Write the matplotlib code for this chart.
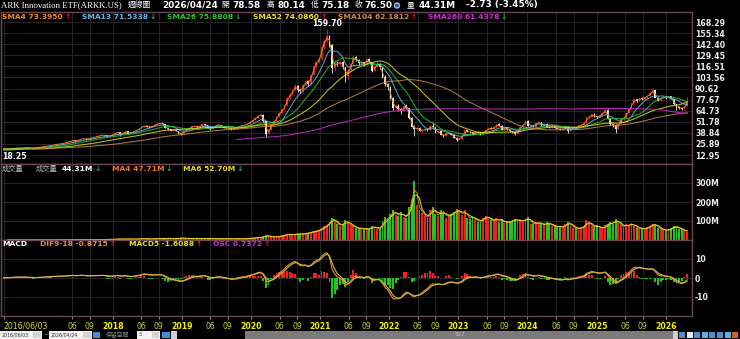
import numpy as np
import pandas as pd
import matplotlib
matplotlib.use('Agg')
import matplotlib.pyplot as plt
import matplotlib.dates as mdates
from matplotlib.patches import Rectangle

# ARKK weekly chart, sampled every second week (2016/06/03 .. 2026/04/24)
first_date = '2016-06-03'

# closes before the first shown candle, only used to warm up the long averages
pre_close = [20.0, 20.4, 20.6, 20.1, 20.5, 20.3, 20.8, 21.2, 21.7, 21.9,
             21.5, 21.6, 21.9, 22.1, 22.4, 22.6, 22.5, 22.3, 22.7, 23.0,
             22.4, 20.6, 19.8, 20.4, 19.7, 20.8, 21.6, 21.4, 21.9, 21.1,
             21.4, 19.6, 18.4, 17.3, 17.0, 17.9, 18.6, 18.9, 19.2, 18.7,
             19.4]

close = [
    20.1, 19.6, 19.9, 20.6, 20.9, 21.2, 21.0, 21.4, 21.6, 21.3, 21.0, 20.7, 21.6,
    21.9, 22.3, 22.8, 23.4, 24.0, 24.6, 25.1, 25.4, 25.9, 26.5, 27.2, 28.0, 28.9,
    30.4, 29.2, 30.6, 31.5, 32.2, 31.4, 32.0, 33.1, 33.8, 34.6, 35.5, 36.2, 36.0,
    34.8, 35.6, 36.8, 38.6, 39.8, 37.2, 38.9, 40.6, 38.0, 39.2, 40.4, 42.3, 43.5,
    45.8, 47.3, 46.1, 45.5, 46.8, 48.4, 49.6, 49.9, 48.6, 44.8, 42.9, 41.5, 42.2,
    41.0, 38.4, 37.6, 40.9, 42.8, 44.6, 46.3, 46.9, 45.2, 47.0, 48.6, 47.8, 44.9,
    43.2, 45.9, 47.4, 48.3, 47.1, 45.0, 44.6, 44.1, 42.8, 43.9, 45.3, 46.8, 47.6,
    48.2, 49.6, 51.8, 53.9, 56.2, 58.9, 60.1, 52.4, 37.8, 42.6, 48.9, 52.7, 57.4,
    62.3, 66.1, 70.8, 79.6, 83.2, 88.4, 93.6, 89.2, 87.5, 95.1, 99.4, 96.0, 106.8,
    117.2, 121.5, 124.9, 139.6, 146.2, 152.4, 141.8, 114.6, 120.3, 119.8, 121.6, 115.7, 104.8,
    111.8, 119.2, 127.6, 124.3, 120.1, 121.5, 118.4, 124.8, 121.2, 111.6, 116.5, 118.9, 115.4,
    104.2, 95.8, 92.4, 79.1, 68.4, 70.2, 66.1, 64.8, 69.7, 67.5, 56.3, 46.2, 43.1,
    44.6, 41.2, 42.0, 43.4, 42.3, 46.8, 45.3, 39.4, 40.6, 36.1, 35.3, 38.2, 38.6,
    36.4, 33.2, 30.6, 32.1, 35.6, 41.8, 40.2, 39.8, 37.9, 40.1, 38.7, 37.3, 39.9,
    42.2, 44.1, 43.4, 45.3, 48.6, 47.1, 42.3, 45.6, 43.2, 40.5, 39.3, 37.6, 41.2,
    45.8, 48.3, 53.1, 47.2, 47.5, 46.1, 50.2, 51.3, 47.1, 49.4, 45.9, 45.2, 46.9,
    44.2, 43.8, 42.6, 43.3, 46.1, 40.9, 44.2, 45.4, 44.6, 47.6, 48.1, 49.8, 56.9,
    57.2, 60.3, 58.1, 57.0, 59.4, 62.1, 65.8, 55.4, 48.7, 48.1, 43.6, 49.2, 55.1,
    56.3, 61.5, 66.8, 73.2, 77.9, 76.1, 79.2, 78.4, 80.6, 82.3, 84.9, 88.6, 80.1,
    76.4, 79.8, 80.6, 79.2, 81.3, 78.5, 72.4, 69.1, 68.3, 66.4, 70.2, 76.5,
]

high = [
    20.4, 20.5, 20.2, 20.8, 21.2, 21.5, 21.4, 21.7, 21.9, 21.8, 21.5, 21.2, 22.1,
    22.2, 22.5, 23.0, 23.6, 24.2, 24.9, 25.4, 25.7, 26.2, 26.8, 27.5, 28.3, 29.3,
    30.9, 30.6, 30.9, 31.9, 32.6, 32.5, 32.3, 33.5, 34.1, 35.0, 35.9, 36.7, 36.8,
    36.4, 35.9, 37.1, 38.9, 40.3, 40.2, 39.3, 41.2, 41.0, 39.6, 40.8, 42.7, 44.0,
    46.3, 47.8, 47.6, 46.5, 47.2, 48.8, 50.1, 50.6, 50.2, 48.9, 45.3, 43.6, 42.9,
    42.6, 41.5, 38.9, 41.2, 43.1, 44.9, 46.6, 47.4, 47.2, 47.3, 49.0, 48.9, 48.0,
    45.2, 46.2, 47.8, 48.9, 48.5, 47.4, 45.5, 45.0, 44.4, 44.3, 45.7, 47.1, 48.0,
    48.6, 49.9, 52.2, 54.5, 56.8, 59.5, 61.9, 60.5, 53.0, 43.1, 49.4, 53.3, 57.9,
    62.8, 66.7, 71.5, 80.4, 85.1, 89.2, 95.3, 94.8, 90.6, 95.8, 100.6, 100.3, 108.1,
    118.3, 122.6, 126.1, 141.2, 148.5, 159.7, 153.6, 143.1, 123.5, 122.4, 124.2, 122.8, 116.3,
    113.0, 120.1, 129.3, 128.2, 125.0, 122.9, 122.0, 125.9, 126.2, 121.8, 117.4, 121.6, 120.3,
    116.0, 106.5, 97.1, 93.0, 80.2, 72.0, 72.5, 67.3, 71.2, 72.6, 68.4, 57.1, 47.8,
    45.8, 45.2, 42.9, 44.3, 43.9, 47.6, 51.6, 45.8, 41.5, 41.0, 37.0, 39.1, 40.4,
    39.1, 37.0, 33.6, 32.5, 36.1, 42.6, 42.3, 41.4, 40.3, 40.6, 41.0, 39.2, 40.4,
    42.6, 44.7, 45.1, 45.8, 49.4, 50.3, 47.5, 46.1, 46.2, 43.8, 41.2, 39.8, 41.7,
    46.2, 48.9, 53.6, 53.5, 48.8, 48.3, 50.9, 52.2, 51.8, 49.9, 49.8, 46.6, 47.5,
    47.3, 44.9, 44.2, 43.8, 46.9, 46.5, 44.6, 45.9, 46.0, 48.1, 48.8, 50.3, 57.8,
    59.1, 61.2, 61.5, 58.9, 60.2, 63.0, 66.8, 66.2, 56.1, 50.3, 48.9, 49.8, 55.7,
    57.2, 62.0, 67.4, 73.9, 78.6, 78.8, 79.8, 80.3, 81.2, 83.1, 86.0, 90.8, 89.0,
    80.6, 80.3, 81.4, 81.0, 82.1, 81.8, 78.9, 73.0, 70.2, 69.0, 70.8, 80.14,
]

low = [
    19.2, 18.25, 19.3, 19.7, 20.4, 20.7, 20.8, 20.9, 21.2, 21.1, 20.8, 20.2, 20.5,
    21.4, 21.7, 22.1, 22.6, 23.2, 23.8, 24.3, 24.8, 25.1, 25.6, 26.2, 26.9, 27.7,
    28.6, 28.4, 29.0, 30.4, 31.2, 31.0, 31.1, 31.8, 32.8, 33.5, 34.3, 35.2, 35.4,
    34.3, 34.4, 35.3, 36.5, 38.2, 35.6, 36.9, 38.6, 37.1, 37.6, 38.9, 40.1, 42.0,
    43.2, 45.4, 45.7, 45.0, 45.2, 46.5, 48.1, 49.1, 48.0, 44.2, 41.8, 40.6, 40.9,
    40.4, 38.0, 35.9, 37.3, 40.5, 42.4, 44.3, 46.0, 44.6, 44.9, 46.7, 47.3, 44.2,
    42.6, 43.0, 45.6, 47.1, 46.8, 44.6, 44.0, 43.6, 42.2, 42.5, 43.6, 45.1, 46.5,
    47.2, 47.9, 49.3, 51.4, 53.5, 55.8, 58.4, 51.6, 33.4, 36.9, 42.2, 48.1, 52.3,
    57.0, 61.5, 65.2, 70.3, 78.2, 82.5, 87.9, 86.4, 84.9, 87.0, 94.3, 93.8, 95.2,
    106.1, 114.8, 120.2, 124.0, 136.8, 145.3, 138.9, 108.2, 111.5, 116.4, 117.9, 113.9, 98.6,
    102.3, 110.5, 118.6, 122.6, 117.8, 118.7, 116.5, 117.9, 120.1, 110.4, 110.9, 115.8, 113.6,
    102.9, 93.7, 88.6, 77.8, 65.2, 67.1, 64.3, 60.5, 63.8, 66.1, 55.2, 45.1, 35.1,
    42.2, 40.6, 38.8, 41.2, 41.5, 41.9, 44.7, 39.0, 38.7, 35.8, 34.1, 34.8, 37.1,
    36.0, 32.7, 29.5, 30.2, 31.8, 35.2, 39.3, 38.6, 36.0, 37.5, 38.1, 36.6, 37.0,
    39.5, 41.7, 42.8, 42.9, 45.0, 46.3, 41.8, 42.0, 42.6, 40.1, 38.4, 36.8, 37.3,
    40.8, 45.3, 48.0, 46.4, 46.1, 45.2, 45.8, 49.6, 46.5, 46.8, 45.4, 44.3, 44.8,
    44.0, 43.1, 41.9, 42.1, 43.0, 39.1, 40.5, 43.8, 43.6, 44.2, 47.0, 47.6, 49.5,
    55.4, 56.8, 57.4, 55.6, 56.3, 59.0, 61.6, 54.8, 47.6, 46.2, 38.9, 43.0, 48.8,
    54.1, 55.8, 61.0, 66.3, 72.5, 75.3, 75.6, 77.5, 77.8, 79.9, 81.6, 84.3, 79.2,
    75.8, 76.0, 79.1, 78.3, 78.8, 77.9, 71.6, 65.5, 67.2, 65.3, 66.0, 69.6,
]

# weekly volume, millions of shares
volume = [
    0.4, 0.5, 0.3, 0.4, 0.3, 0.3, 0.4, 0.3, 0.5, 0.4, 0.3, 0.6, 0.5,
    0.4, 0.5, 0.5, 0.6, 0.7, 0.8, 0.9, 0.7, 0.8, 1.0, 1.1, 1.3, 1.6,
    2.1, 1.8, 1.5, 1.6, 1.4, 1.7, 1.9, 2.2, 2.0, 2.4, 2.6, 2.3, 2.8,
    3.1, 2.6, 4.2, 4.8, 3.9, 6.1, 4.3, 5.2, 5.8, 4.6, 4.1, 5.4, 6.2,
    7.1, 6.4, 5.2, 4.8, 5.6, 6.8, 7.3, 6.9, 6.1, 9.4, 8.8, 7.6, 6.2,
    8.3, 9.1, 10.4, 8.6, 7.4, 7.9, 8.2, 7.1, 8.4, 6.6, 6.9, 7.2, 8.5,
    7.8, 6.9, 6.2, 5.8, 7.4, 8.1, 6.5, 6.3, 7.2, 6.8, 6.1, 5.9, 6.4,
    6.2, 7.1, 9.4, 10.3, 11.6, 13.8, 12.4, 18.6, 24.3, 19.8, 16.4, 15.2, 17.9,
    19.4, 22.1, 26.3, 31.8, 28.4, 27.6, 30.5, 34.2, 29.8, 32.6, 35.1, 38.4, 41.7,
    45.2, 48.6, 52.3, 61.4, 72.8, 78.6, 95.4, 118.3, 96.2, 82.4, 74.6, 86.3, 104.5,
    88.2, 76.5, 71.4, 62.8, 58.3, 64.1, 55.6, 60.2, 57.4, 72.6, 66.3, 58.9, 63.4,
    92.4, 118.6, 104.2, 136.5, 158.3, 132.6, 128.4, 145.7, 122.3, 116.8, 172.5, 214.6, 312.4,
    186.3, 158.4, 142.6, 124.8, 118.3, 156.2, 172.4, 134.5, 128.6, 156.3, 142.8, 118.4, 132.5,
    138.6, 145.2, 162.4, 148.3, 132.6, 156.8, 118.4, 112.6, 124.3, 108.5, 96.4, 102.3, 115.6,
    126.4, 112.5, 104.8, 98.6, 118.2, 96.4, 108.3, 88.6, 92.4, 98.5, 102.6, 112.4, 98.3,
    104.6, 96.5, 112.3, 118.6, 86.4, 82.3, 94.2, 88.6, 84.5, 76.8, 92.4, 86.5, 72.4,
    74.3, 68.5, 72.1, 66.8, 82.4, 96.5, 78.3, 64.6, 62.4, 58.8, 66.2, 72.5, 104.3,
    86.4, 72.3, 68.5, 76.4, 62.8, 58.6, 78.4, 86.3, 92.5, 84.6, 112.4, 88.6, 76.5,
    68.3, 82.4, 74.6, 88.3, 72.5, 64.8, 58.6, 62.4, 56.8, 68.5, 74.2, 86.4, 78.6,
    62.4, 58.6, 52.3, 48.6, 56.4, 62.8, 74.5, 68.2, 58.4, 52.6, 48.3, 44.31,
]

price_ticks = [12.95, 25.89, 38.84, 51.78, 64.73, 77.67, 90.62, 103.56,
               116.51, 129.45, 142.40, 155.34, 168.29]
vol_ticks = [100, 200, 300]
vol_tick_labels = ['100M', '200M', '300M']
macd_ticks = [-10, 0, 10]

# moving averages: name, window in weeks, colour
sma_specs = [('SMA4', 4, '#f08a24'), ('SMA13', 13, '#62b8ea'),
             ('SMA26', 26, '#2ec42e'), ('SMA52', 52, '#e6e01e'),
             ('SMA104', 104, '#c98a4b'), ('SMA260', 260, '#d62ad6')]

assert len(close) == len(high) == len(low) == len(volume)

n = len(close)
npre = len(pre_close)
dates = pd.date_range(first_date, periods=n, freq='14D')
x = mdates.date2num(dates.to_pydatetime())
close = np.array(close)
high = np.array(high)
low = np.array(low)
volume = np.array(volume)
opens = np.r_[pre_close[-1], close[:-1]]
up = close >= opens

all_close = pd.Series(list(pre_close) + list(close))

# two samples per week -> halve the windows
sma_lines = []
for name, weeks, col in sma_specs:
    w = max(int(round(weeks / 2.0 + 0.01)), 1)
    sma_lines.append((all_close.rolling(w).mean().values[npre:], col))

# MACD 9/18/5 (weekly), alphas converted to two-week steps
a_fast = 1 - (1 - 2 / 10.0) ** 2
a_slow = 1 - (1 - 2 / 19.0) ** 2
a_sig = 1 - (1 - 2 / 6.0) ** 2
dif_all = all_close.ewm(alpha=a_fast, adjust=False).mean() - all_close.ewm(alpha=a_slow, adjust=False).mean()
sig_all = dif_all.ewm(alpha=a_sig, adjust=False).mean()
dif = dif_all.values[npre:]
sig = sig_all.values[npre:]
osc = dif - sig

vol_s = pd.Series(volume)
vma4 = vol_s.rolling(2).mean().values
vma6 = vol_s.rolling(3).mean().values

# ---- figure ----
W, H = 740, 339
fig = plt.figure(figsize=(W / 100, H / 100), dpi=100, facecolor='black')
renderer = fig.canvas.get_renderer()

def fx(px):
    return px / W

def fy(py):
    return 1 - py / H

def txt(px, py, s, size=5.4, color='white', weight='bold', family='DejaVu Sans', **kw):
    return fig.text(fx(px), fy(py), s, fontsize=size, color=color, fontweight=weight,
                    family=family, ha=kw.pop('ha', 'left'), va='center', **kw)

def legend_item(px, py, s, color, is_up):
    # value text followed by a small red/green arrow
    t = txt(px, py, s, color=color)
    bb = t.get_window_extent(renderer)
    txt(bb.x1 + 1.5, py, '↑' if is_up else '↓', color=red if is_up else green)

def box(px, py, pw, ph, color):
    fig.add_artist(Rectangle((fx(px), fy(py + ph)), pw / W, ph / H,
                             transform=fig.transFigure, fc=color, ec='none'))

cjk = ['Noto Sans CJK TC', 'DejaVu Sans']
spine_col = '#6a4658'
grid_col = '#262626'
red = '#f42020'
green = '#22c422'

left, right = 1, 692
ax_p = fig.add_axes([fx(left), fy(164), (right - left) / W, (164 - 12) / H])
ax_v = fig.add_axes([fx(left), fy(240), (right - left) / W, (240 - 164) / H], sharex=ax_p)
ax_m = fig.add_axes([fx(left), fy(316), (right - left) / W, (316 - 240) / H], sharex=ax_p)

# the OSC histogram is drawn on its own (tighter) scale, zero on the same line
ax_o = ax_m.twinx()
ax_o.set_ylim(-6, 6)
ax_o.axis('off')

# x ticks
tick_x = [x[0]]
tick_lab = ['2016/06/03']
for yr in range(2017, 2027):
    if yr >= 2018:
        tick_x.append(mdates.date2num(pd.Timestamp(f'{yr}-01-01')))
        tick_lab.append(str(yr))
    if yr <= 2025:
        for m in ('06', '09'):
            tick_x.append(mdates.date2num(pd.Timestamp(f'{yr}-{m}-01')))
            tick_lab.append(m)

for ax in (ax_p, ax_v, ax_m):
    ax.set_facecolor('black')
    for s in ax.spines.values():
        s.set_color(spine_col)
        s.set_linewidth(1.0)
    ax.yaxis.tick_right()
    ax.tick_params(axis='y', left=False, right=True, labelleft=False, labelright=True,
                   length=0, pad=2.2, labelsize=5.6, labelcolor='#ececec')
    ax.grid(True, color=grid_col, lw=0.7)
    ax.set_axisbelow(True)

ax_p.set_xlim(mdates.date2num(pd.Timestamp('2016-05-20')),
              mdates.date2num(pd.Timestamp('2026-05-20')))
ax_m.set_xticks(tick_x)
ax_m.set_xticklabels(tick_lab)
ax_p.tick_params(axis='x', length=0, labelbottom=False)
ax_v.tick_params(axis='x', length=0, labelbottom=False)
ax_m.tick_params(axis='x', length=2.5, pad=1.5, color='#8c8c3c', labelsize=5.6)
for lab in ax_m.get_xticklabels():
    t = lab.get_text()
    if len(t) == 4:
        lab.set_color('#f2f200')
        lab.set_fontweight('bold')
    elif len(t) == 2:
        lab.set_color('#c8c840')
    else:
        lab.set_color('#d8d830')
        lab.set_horizontalalignment('left')

# ---- price panel ----
ax_p.set_ylim(2.44, 179.97)
ax_p.set_yticks(price_ticks)
ax_p.set_yticklabels(['%.2f' % v for v in price_ticks])

ccol = np.where(up, red, '#f2f2f2')
ax_p.vlines(x, low, high, colors=ccol, lw=0.6)
body = np.maximum(np.abs(close - opens), 0.25)
ax_p.bar(x, body, bottom=np.minimum(opens, close), width=9, color=ccol, lw=0)
for vals, col in sma_lines:
    ax_p.plot(x, vals, color=col, lw=0.75, alpha=0.85)

ipk = int(np.argmax(high))
ax_p.annotate('%.2f' % high[ipk], (x[ipk], high[ipk]), xytext=(0, 0.8),
              textcoords='offset points', ha='center', va='bottom',
              color='white', fontsize=5.6, fontweight='bold')
ilo = int(np.argmin(low))
ax_p.annotate('%.2f' % low[ilo], (x[0], low[ilo]), xytext=(-1, -1),
              textcoords='offset points', ha='left', va='top',
              color='white', fontsize=5.6, fontweight='bold')

# ---- volume panel ----
ax_v.set_ylim(0, 400)
ax_v.set_yticks(vol_ticks)
ax_v.set_yticklabels(vol_tick_labels)
ax_v.bar(x, volume, width=10, color=np.where(up, red, green), lw=0)
ax_v.plot(x, vma4, color='#e87d2a', lw=0.7)
ax_v.plot(x, vma6, color='#e2dc1e', lw=0.7)

# ---- MACD panel ----
ax_m.set_ylim(-20, 20)
ax_m.set_yticks(macd_ticks)
ax_m.set_yticklabels([str(v) for v in macd_ticks])
ax_o.bar(x, osc, width=10, color=np.where(osc >= 0, red, green), lw=0)
ax_o.plot(x, dif, color='#ec8a2e', lw=0.8, transform=ax_m.transData)
ax_o.plot(x, sig, color='#cdb850', lw=0.8, transform=ax_m.transData)

for ax in (ax_p, ax_v, ax_m):
    for lab in ax.get_yticklabels():
        lab.set_fontweight('bold')

# ---- title row ----
txt(1, 5, 'ARK Innovation ETF(ARKK.US)', size=6.3, weight='normal', family='Liberation Serif')
txt(128, 5, '週線圖', size=5.6, weight='normal', family=cjk)
txt(162, 5, '2026/04/24', size=6.4)
txt(221, 5, '開', size=5.6, weight='normal', family=cjk)
txt(232, 5, '78.58', size=6.4)
txt(267, 5, '高', size=5.6, weight='normal', family=cjk)
txt(277, 5, '80.14', size=6.4)
txt(311, 5, '低', size=5.6, weight='normal', family=cjk)
txt(321, 5, '75.18', size=6.4)
txt(355, 5, '收', size=5.6, weight='normal', family=cjk)
txt(364, 5, '76.50', size=6.4)
txt(395, 5.5, 'e', size=4.2, color='#1c2c6c',
    bbox=dict(boxstyle='circle,pad=0.12', fc='#9cb8e8', ec='none'))
txt(407, 5, '量', size=5.6, weight='normal', family=cjk)
txt(419, 5, '44.31M', size=6.4)
txt(466, 5, '-2.73 (-3.45%)', size=6.4)

# ---- legends ----
sma_legend = [(2, 'SMA4 73.3950', '#f08a24', True),
              (82, 'SMA13 71.5338', '#62b8ea', False),
              (167, 'SMA26 75.8808', '#2ec42e', False),
              (253, 'SMA52 74.0860', '#e6e01e', True),
              (338, 'SMA104 62.1812', '#c98a4b', True),
              (428, 'SMA260 61.4378', '#d62ad6', False)]
for px, s, col, is_up in sma_legend:
    legend_item(px, 17, s, col, is_up)

txt(2, 168.5, '成交量', size=5.2, weight='normal', color='#bdbdbd', family=cjk)
txt(36, 168.5, '成交量', size=5.2, weight='normal', color='#bdbdbd', family=cjk)
legend_item(62, 168.5, '44.31M', 'white', False)
legend_item(112, 168.5, 'MA4 47.71M', '#e87d2a', False)
legend_item(183, 168.5, 'MA6 52.70M', '#e2dc1e', False)

txt(2, 244, 'MACD', color='white')
legend_item(40, 244, 'DIF9-18 -0.8715', '#ec8a2e', True)
legend_item(129, 244, 'MACD5 -1.6088', '#e2dc1e', True)
legend_item(213, 244, 'OSC 0.7372', '#d62ad6', True)

# ---- bottom tool bar ----
box(0, 331, 42, 8, '#f2f2f2')
box(33, 332, 8, 6, '#d2d2d2')
txt(2, 335, '2016/06/03', size=3.4, weight='normal', color='#303030')
txt(43.5, 335, '~', size=4.5, weight='normal', color='#d0d0d0')
box(49, 331, 43, 8, '#f2f2f2')
box(83, 332, 8, 6, '#d2d2d2')
txt(51, 335, '2026/04/24', size=3.4, weight='normal', color='#303030')
box(93, 332, 7, 6, '#3c8fd8')
txt(106, 335, '保留空間', size=4.2, weight='normal', color='#8a8a8a', family=cjk)
box(137, 331, 23, 8, '#f2f2f2')
box(152, 332, 7, 6, '#d2d2d2')
txt(139, 335, '3', size=3.6, weight='normal', color='#303030')
box(162, 332, 8, 6, '#3c8fd8')
box(171, 331, 6, 8, '#cfcfcf')
box(245, 331, 428, 8, '#7b7b7b')
txt(455, 335, '517', size=4.0, weight='normal', color='#c4c4c4')
box(673, 331, 5, 8, '#cfcfcf')
icon_cols = ['#4a90d0', '#e8e8e8', '#4a90d0', '#58b0e8', '#4a90d0',
             '#4a90d0', '#58b0e8', '#e05a20']
for k, c in enumerate(icon_cols):
    box(679 + k * 7.6, 332, 6, 6, c)

plt.savefig('out.png', dpi=100, facecolor='black')
